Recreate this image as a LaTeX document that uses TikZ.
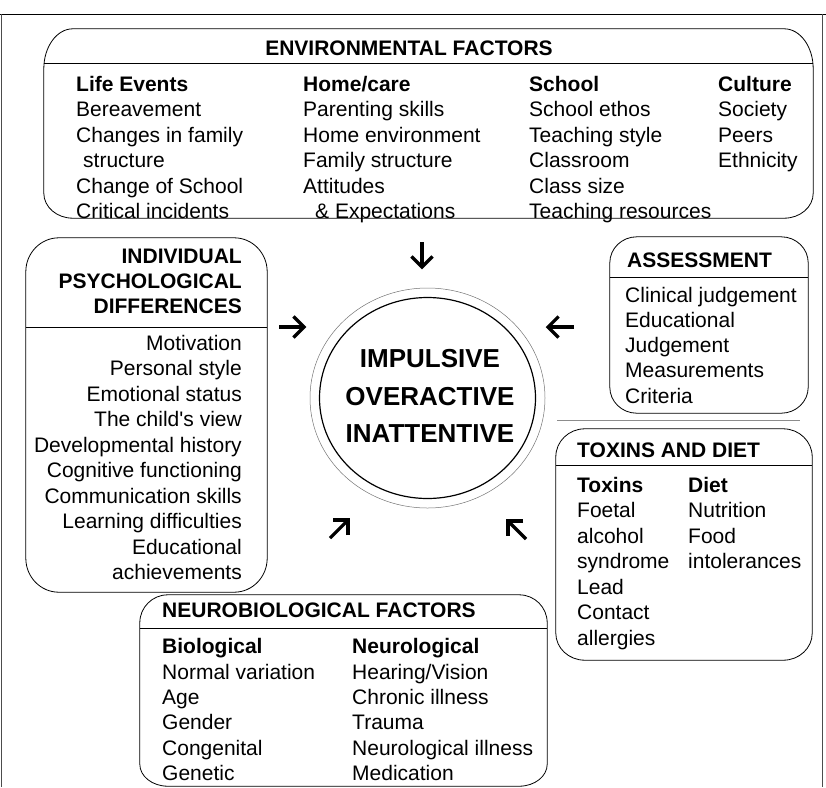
\documentclass[tikz,border=0pt]{standalone}
\usepackage{fontspec}
\setmainfont{Liberation Sans}
\usetikzlibrary{calc,shapes.geometric}
\tikzset{
  boxline/.style={draw, line width=0.8pt},
  frame/.style={inner sep=0pt, draw=none},
  txt/.style={font=\fontsize{21}{25.5}\selectfont, inner sep=0pt, anchor=base west},
  txtr/.style={txt, anchor=base east},
  hd/.style={txt, font=\fontsize{21}{25.5}\selectfont\bfseries},
  hdr/.style={hd, anchor=base east},
  core/.style={draw, ellipse, inner sep=0pt},
  big/.style={font=\fontsize{26}{37}\selectfont\bfseries, inner sep=0pt, anchor=base},
  arrline/.style={line width=3.2pt, line join=miter, line cap=butt},
  divider/.style={line width=0.8pt},
  faint/.style={line width=0.7pt, black!45}
}
% elliptic-cornered outline around a named node: #1 name, #2 rx, #3 ry top, #4 ry bottom
\newcommand{\eboxline}[4]{%
  \draw[boxline]
    ($(#1.north west)+(0,#3)$) -- ($(#1.south west)+(0,-#4)$)
    .. controls ($(#1.south west)+(0,-0.448*#4)$) and ($(#1.south west)+(0.448*#2,0)$) .. ($(#1.south west)+(#2,0)$)
    -- ($(#1.south east)+(-#2,0)$)
    .. controls ($(#1.south east)+(-0.448*#2,0)$) and ($(#1.south east)+(0,-0.448*#4)$) .. ($(#1.south east)+(0,-#4)$)
    -- ($(#1.north east)+(0,#3)$)
    .. controls ($(#1.north east)+(0,0.448*#3)$) and ($(#1.north east)+(-0.448*#2,0)$) .. ($(#1.north east)+(-#2,0)$)
    -- ($(#1.north west)+(#2,0)$)
    .. controls ($(#1.north west)+(0.448*#2,0)$) and ($(#1.north west)+(0,0.448*#3)$) .. ($(#1.north west)+(0,#3)$)
    -- cycle;}
% open arrow from #1 to #2
\newcommand{\openarrow}[2]{%
  \draw[arrline] (#1) -- ($(#2)!1.2pt!(#1)$);
  \draw[arrline] ($(#2)!15pt!45:(#1)$) -- (#2) -- ($(#2)!15pt!-45:(#1)$);}
\begin{document}
\begin{tikzpicture}[x=1pt,y=-1pt]
\useasboundingbox (0,0) rectangle (826,787);
% frame
\coordinate (tl) at (0,14); \coordinate (tr) at (826,14);
\coordinate (fl) at (1.2,14); \coordinate (flb) at (1.2,787);
\coordinate (fr) at (822.5,14); \coordinate (frb) at (822.5,787);
\draw[line width=1pt] (tl) -- (tr);
\draw[line width=1pt, black!70] (fl) -- (flb);
\draw[line width=1pt, black!70] (fr) -- (frb);
\coordinate (gl1) at (557,420.5); \coordinate (gl2) at (800,420.5);
\draw[faint] (gl1) -- (gl2);

% ENVIRONMENTAL FACTORS
\node[frame, minimum width=769pt, minimum height=189pt] (env) at (428.5,123.5) {};
\eboxline{env}{29}{40}{25}
\draw[divider] (env.west |- 0,63) -- (env.east |- 0,63);
\node[hd, anchor=base] (envt) at (409,55) {ENVIRONMENTAL FACTORS};
\foreach \t [count=\i from 0] in {Bereavement,Changes in family,\hspace{7pt}structure,Change of School,Critical incidents}
  \node[txt] (envA\i) at (76,116.5+\i*25.5) {\t};
\node[hd] (envAh) at (76,91) {Life Events};
\foreach \t [count=\i from 0] in {Parenting skills,Home environment,Family structure,Attitudes,\hspace{12pt}\& Expectations}
  \node[txt] (envB\i) at (303,116.5+\i*25.5) {\t};
\node[hd] (envBh) at (303,91) {Home/care};
\foreach \t [count=\i from 0] in {School ethos,Teaching style,Classroom,Class size,Teaching resources}
  \node[txt] (envC\i) at (529,116.5+\i*25.5) {\t};
\node[hd] (envCh) at (529,91) {School};
\foreach \t [count=\i from 0] in {Society,Peers,Ethnicity}
  \node[txt] (envD\i) at (718,116.5+\i*25.5) {\t};
\node[hd] (envDh) at (718,91) {Culture};

% INDIVIDUAL PSYCHOLOGICAL DIFFERENCES
\node[frame, minimum width=241pt, minimum height=354pt] (ind) at (146.5,415) {};
\eboxline{ind}{33}{34}{34}
\draw[divider] (ind.west |- 0,327) -- (ind.east |- 0,327);
\foreach \t [count=\i from 0] in {INDIVIDUAL,PSYCHOLOGICAL,DIFFERENCES}
  \node[hdr] (indh\i) at (242,263+\i*25) {\t};
\foreach \t [count=\i from 0] in {Motivation,Personal style,Emotional status,The child\textquotesingle s view,Developmental history,Cognitive functioning,Communication skills,Learning difficulties,Educational,achievements}
  \node[txtr] (ind\i) at (242,350+\i*25.5) {\t};

% ASSESSMENT
\node[frame, minimum width=198pt, minimum height=176pt] (ass) at (709,325) {};
\eboxline{ass}{27}{26}{26}
\draw[divider] (ass.west |- 0,277) -- (ass.east |- 0,277);
\node[hd] (assh) at (627,267) {ASSESSMENT};
\foreach \t [count=\i from 0] in {Clinical judgement,Educational,Judgement,Measurements,Criteria}
  \node[txt] (ass\i) at (625,302+\i*25.3) {\t};

% TOXINS AND DIET
\node[frame, minimum width=256pt, minimum height=231pt] (tox) at (684,544.5) {};
\eboxline{tox}{29}{28}{27}
\draw[divider] (tox.west |- 0,465) -- (tox.east |- 0,465);
\node[hd] (toxh) at (577,457) {TOXINS AND DIET};
\node[hd] (toxA) at (577,492) {Toxins};
\foreach \t [count=\i from 1] in {Foetal,alcohol,syndrome,Lead,Contact,allergies}
  \node[txt] (toxA\i) at (577,492+\i*25.5) {\t};
\node[hd] (toxB) at (688,492) {Diet};
\foreach \t [count=\i from 1] in {Nutrition,Food,intolerances}
  \node[txt] (toxB\i) at (688,492+\i*25.5) {\t};

% NEUROBIOLOGICAL FACTORS
\node[frame, minimum width=407pt, minimum height=191pt] (neu) at (343.5,690.5) {};
\eboxline{neu}{28}{28}{22}
\draw[divider] (neu.west |- 0,628) -- (neu.east |- 0,628);
\node[hd] (neuh) at (162,617) {NEUROBIOLOGICAL FACTORS};
\node[hd] (neuA) at (162,653) {Biological};
\foreach \t [count=\i from 1] in {Normal variation,Age,Gender,Congenital,Genetic}
  \node[txt] (neuA\i) at (162,654+\i*25.3) {\t};
\node[hd] (neuB) at (352,653) {Neurological};
\foreach \t [count=\i from 1] in {Hearing/Vision,Chronic illness,Trauma,Neurological illness,Medication}
  \node[txt] (neuB\i) at (352,654+\i*25.3) {\t};

% CENTRE
\node[core, line width=0.5pt, black!55, minimum width=235pt, minimum height=220pt] (outer) at (427.5,398) {};
\node[core, line width=1.2pt, minimum width=216pt, minimum height=201pt] (inner) at (427.5,398) {};
\node[big] (l1) at (430,367) {IMPULSIVE};
\node[big] (l2) at (430,405) {OVERACTIVE};
\node[big] (l3) at (430,442) {INATTENTIVE};

% arrows
\coordinate (aD1) at (422,242); \coordinate (aD2) at (422,267);
\coordinate (aR1) at (279,327); \coordinate (aR2) at (304,327);
\coordinate (aL1) at (574,327); \coordinate (aL2) at (548,327);
\coordinate (aNE1) at (330,538); \coordinate (aNE2) at (348,520);
\coordinate (aNW1) at (526,539); \coordinate (aNW2) at (508,521);
\openarrow{aD1}{aD2}
\openarrow{aR1}{aR2}
\openarrow{aL1}{aL2}
\openarrow{aNE1}{aNE2}
\openarrow{aNW1}{aNW2}
\end{tikzpicture}
\end{document}
